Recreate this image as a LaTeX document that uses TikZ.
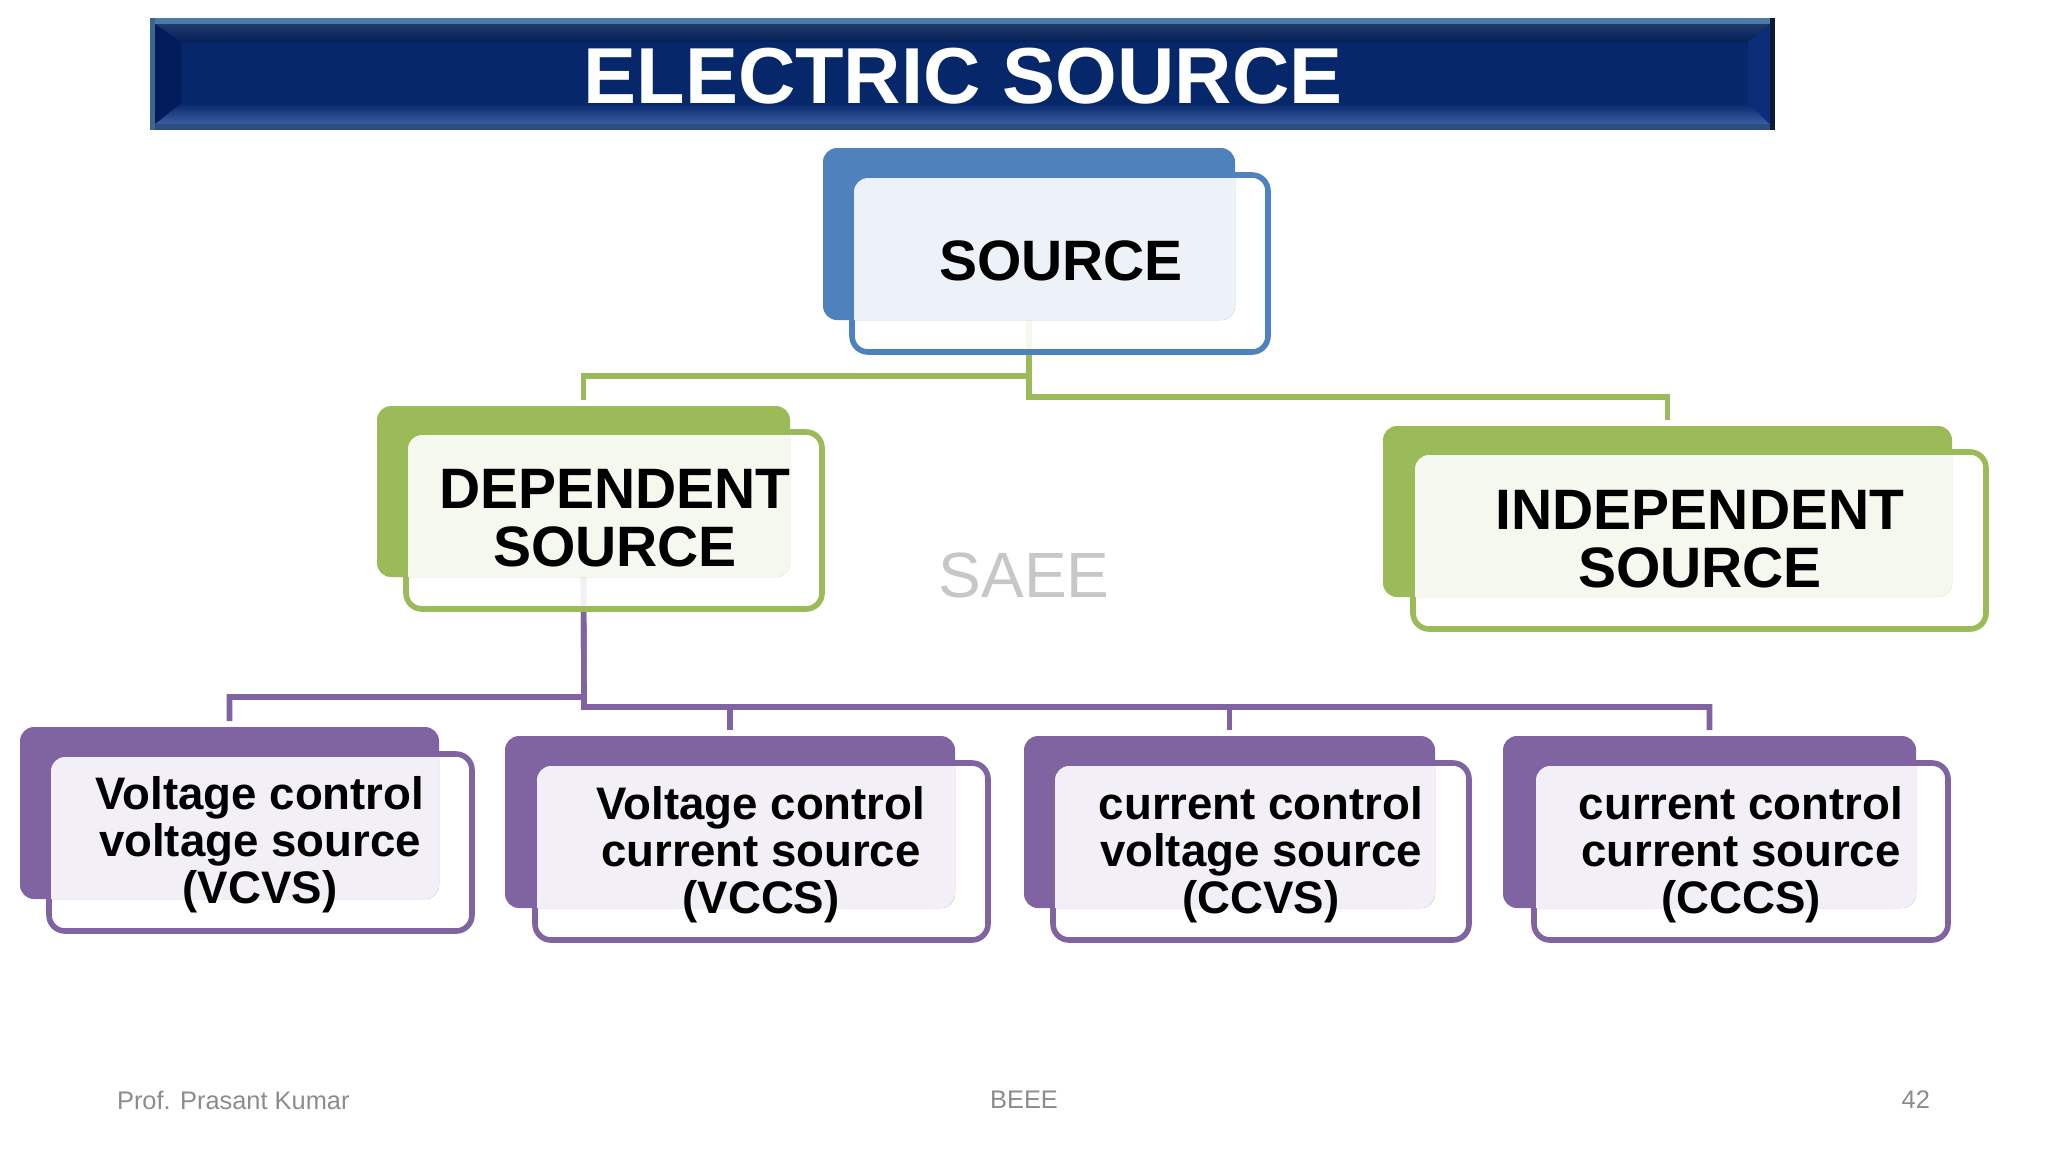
\documentclass[tikz,border=0pt]{standalone}
\usepackage{fontspec}
\setmainfont{Liberation Sans}
\usepackage{xcolor}
\usepackage{tikz}
\usetikzlibrary{fit,backgrounds}
\definecolor{srcblue}{HTML}{4F81BD}
\definecolor{depgreen}{HTML}{9BBB59}
\definecolor{ctlpurple}{HTML}{8064A2}
\definecolor{navy}{HTML}{07276B}

\begin{document}
\begin{tikzpicture}[x=0.5pt,y=-0.5pt]
    \tikzstyle{backbox}=[fill=#1, rounded corners=7pt, inner sep=0pt, outer sep=0pt]
    \tikzstyle{frontbox}=[draw=#1, line width=2.8pt, fill=white, fill opacity=0.9, rounded corners=8pt, inner sep=0pt, outer sep=0pt]
    \tikzstyle{bigtext}=[font=\fontsize{28.5}{29}\selectfont\bfseries, align=center]
    \tikzstyle{smalltext}=[font=\fontsize{22.8}{23.5}\selectfont\bfseries, align=center]
    \tikzstyle{foot}=[font=\fontsize{12.7}{15}\selectfont, text=black!45]
    \tikzstyle{link}=[draw=#1, line width=2.8pt, shorten >=3pt]

    \useasboundingbox (0,0) rectangle (2048,1152);

    % title bar
    \node[fill=navy, inner sep=0pt, outer sep=0pt, fit={(150,18)(1775,130)}] (banner) {};
    \fill[color={rgb,255:red,74;green,122;blue,166}] (150,18) rectangle (1775,24);
    \fill[color={rgb,255:red,42;green,78;blue,125}] (150,124) rectangle (1775,130);
    \fill[color={rgb,255:red,59;green,104;blue,138}] (150,18) rectangle (155,130);
    \fill[color={rgb,255:red,13;green,26;blue,51}] (1770,18) rectangle (1775,130);
    \shade[top color={rgb,255:red,31;green,58;blue,110}, bottom color=navy!80!black] (155,24) -- (1770,24) -- (1748,42) -- (181,42) -- cycle;
    \shade[top color=navy, bottom color={rgb,255:red,60;green,93;blue,162}] (181,103) -- (1748,103) -- (1770,124) -- (155,124) -- cycle;
    \fill[color={rgb,255:red,2;green,27;blue,90}] (155,24) -- (181,42) -- (181,103) -- (155,124) -- cycle;
    \fill[color={rgb,255:red,12;green,45;blue,120}] (1770,24) -- (1748,42) -- (1748,103) -- (1770,124) -- cycle;
    \node[text=white, font=\fontsize{39.7}{42}\selectfont\bfseries] (title) at (963,76) {ELECTRIC SOURCE};

    % boxes: name, back corners, front corners, colour
    \foreach \name/\bl/\bt/\br/\bb/\fl/\ft/\fr/\fb/\col in {
        src/823/148/1235/320/849/172/1271/355/srcblue,
        dep/377/406/790/577/403/429/825/612/depgreen,
        ind/1383/426/1952/597/1410/449/1989/632/depgreen,
        vcvs/20/727/439/899/46/751/475/934/ctlpurple,
        vccs/505/736/955/908/532/760/991/943/ctlpurple,
        ccvs/1024/736/1435/908/1050/760/1472/943/ctlpurple,
        cccs/1503/736/1916/908/1531/760/1951/943/ctlpurple}
    {
        \node[frontbox=\col, fit={({\fl+3},{\ft+3})({\fr-3},{\fb-3})}] (\name front) {};
        \node[backbox=\col, fit={(\bl,\bt)(\br,\bb)}] (\name back) {};
        \fill[color=\col!10!white, rounded corners=7pt] ({\fl+5},{\ft+6}) [sharp corners] -- (\br,{\ft+6}) [rounded corners=7pt] -- (\br,\bb) [sharp corners] -- ({\fl+5},\bb) [rounded corners=7pt] -- cycle;
    }

    \node[bigtext] (srctext) at (1061,261) {SOURCE};
    \node[bigtext] (deptext) at (615,518) {DEPENDENT\\SOURCE};
    \node[bigtext] (indtext) at (1700,539) {INDEPENDENT\\SOURCE};
    \node[smalltext] (vcvstext) at (260,845) {Voltage control\\voltage source\\(VCVS)};
    \node[smalltext] (vccstext) at (761,855) {Voltage control\\current source\\(VCCS)};
    \node[smalltext] (ccvstext) at (1261,855) {current control\\voltage source\\(CCVS)};
    \node[smalltext] (cccstext) at (1741,855) {current control\\current source\\(CCCS)};

    \node[text=black!22, font=\fontsize{32}{34}\selectfont] (mark) at (1024,575) {SAEE};
    \node[foot, anchor=west] (author) at (110,1100) {Prof. Prasant Kumar};
    \node[foot] (course) at (1024,1100) {BEEE};
    \node[foot, anchor=east] (page) at (1937,1100) {42};

    \coordinate (depjoin) at (1029,376);
    \coordinate (indjoin) at (1029,397);
    \coordinate (vcvsjoin) at (584,697);
    \coordinate (restjoin) at (584,707);

    \begin{scope}[on background layer]
        \draw[link=depgreen] (srcback.south) -- (depjoin) -| (depback.north);
        \draw[link=depgreen] (srcback.south) -- (indjoin) -| (indback.north);

        \draw[link=ctlpurple] (depback.south) -- (vcvsjoin) -| (vcvsback.north);
        \draw[link=ctlpurple] (depback.south) -- (restjoin) -| (cccsback.north);
        \draw[link=ctlpurple] (restjoin -| vccsback.north) -- (vccsback.north);
        \draw[link=ctlpurple] (restjoin -| ccvsback.north) -- (ccvsback.north);
    \end{scope}
\end{tikzpicture}
\end{document}
